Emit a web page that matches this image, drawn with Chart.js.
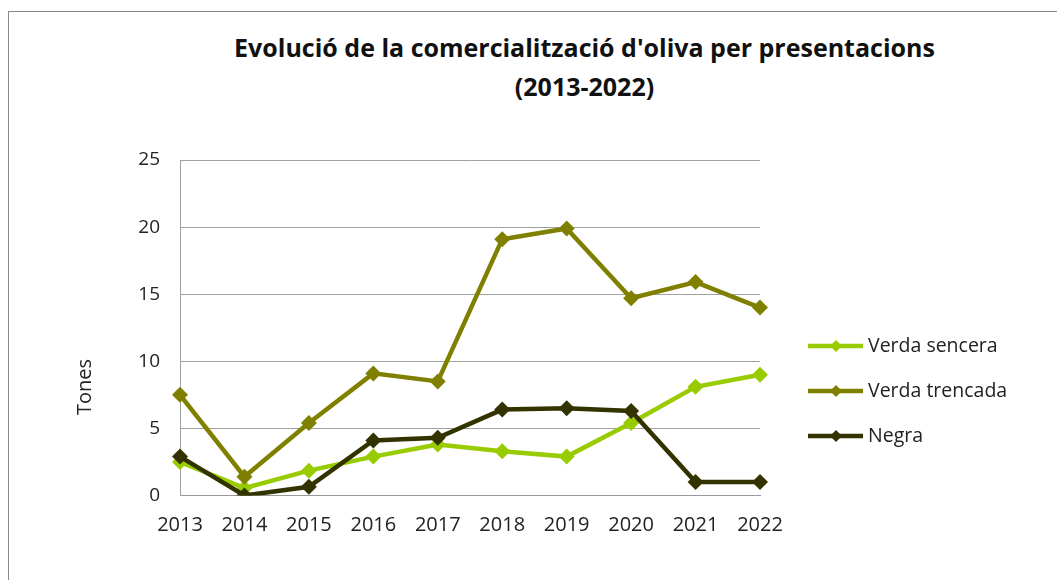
<!DOCTYPE html>
<html>
<head>
<meta charset="utf-8">
<script src="https://cdn.jsdelivr.net/npm/chart.js@4/dist/chart.umd.min.js"></script>
<style>
  html, body { margin: 0; padding: 0; background: #fff; }
  #wrap { position: relative; width: 1057px; height: 580px; overflow: hidden; }
  #frame { position: absolute; left: 8px; top: 11px; right: -2px; bottom: -2px; border-top: 1px solid #8a8a8a; border-left: 1px solid #8a8a8a; }
  #title { position: absolute; left: 0; width: 1169px; top: 28px; text-align: center; font-family: "Open Sans", sans-serif; font-weight: bold; font-size: 25px; line-height: 39px; color: #111; }
  canvas { position: absolute; left: 0; top: 0; }
</style>
</head>
<body>
<div id="wrap">
  <div id="frame"></div>
  <div id="title">Evolució de la comercialització d'oliva per presentacions<br>(2013-2022)</div>
  <canvas id="c" width="1057" height="580"></canvas>
</div>
<script>
const years = ['2013','2014','2015','2016','2017','2018','2019','2020','2021','2022'];
const verdaSencera = [2.5, 0.55, 1.85, 2.9, 3.8, 3.3, 2.9, 5.4, 8.1, 9.0];
const verdaTrencada = [7.5, 1.4, 5.4, 9.1, 8.5, 19.1, 19.9, 14.7, 15.9, 14.0];
const negra = [2.9, 0.0, 0.65, 4.1, 4.3, 6.4, 6.5, 6.3, 1.0, 1.0];
const seriesNames = ['Verda sencera', 'Verda trencada', 'Negra'];
const seriesColors = ['#99cc00', '#808000', '#333300'];
const yTicks = [0, 5, 10, 15, 20, 25];
const yTitle = 'Tones';

const FONT = '"Open Sans", sans-serif';

function ds(label, data, color, order) {
  return {
    label, data, order,
    borderColor: color, backgroundColor: color,
    borderWidth: 4.5,
    pointStyle: 'rectRot', pointRadius: 8, pointHoverRadius: 8,
    pointBorderWidth: 0,
    tension: 0
  };
}

const extras = {
  id: 'extras',
  afterDraw(chart) {
    const ctx = chart.ctx;
    ctx.save();
    ctx.fillStyle = '#222';
    ctx.font = '20px ' + FONT;
    ctx.textAlign = 'center';
    ctx.textBaseline = 'middle';
    ctx.translate(85, 387);
    ctx.rotate(-Math.PI / 2);
    ctx.fillText(yTitle, 0, 0);
    ctx.restore();

    ctx.save();
    const ys = [346, 391, 436];
    seriesNames.forEach((name, i) => {
      const y = ys[i];
      const col = seriesColors[i];
      ctx.strokeStyle = col;
      ctx.lineWidth = 4.5;
      ctx.beginPath();
      ctx.moveTo(808, y);
      ctx.lineTo(863, y);
      ctx.stroke();
      ctx.fillStyle = col;
      ctx.beginPath();
      const r = 6;
      ctx.moveTo(836, y - r);
      ctx.lineTo(836 + r, y);
      ctx.lineTo(836, y + r);
      ctx.lineTo(836 - r, y);
      ctx.closePath();
      ctx.fill();
      ctx.fillStyle = '#222';
      ctx.font = '19.5px ' + FONT;
      ctx.textAlign = 'left';
      ctx.textBaseline = 'middle';
      ctx.fillText(name, 868, y);
    });
    ctx.restore();
  }
};

new Chart(document.getElementById('c'), {
  type: 'line',
  data: {
    labels: years,
    datasets: [
      ds(seriesNames[0], verdaSencera, seriesColors[0], 3),
      ds(seriesNames[1], verdaTrencada, seriesColors[1], 2),
      ds(seriesNames[2], negra, seriesColors[2], 1)
    ]
  },
  options: {
    responsive: false,
    animation: false,
    devicePixelRatio: 1,
    layout: { padding: { left: 0, right: 297, top: 160, bottom: 0 } },
    plugins: { legend: { display: false }, title: { display: false }, tooltip: { enabled: false } },
    scales: {
      x: {
        type: 'category',
        offset: false,
        grid: { display: false, drawTicks: false },
        border: { display: true, color: '#999', width: 1 },
        ticks: { padding: 18, color: '#222', font: { family: FONT, size: 20 }, maxRotation: 0, autoSkip: false },
        afterFit(scale) { scale.height = 84.5; }
      },
      y: {
        min: 0, max: 25,
        afterBuildTicks(scale) { scale.ticks = yTicks.map(v => ({ value: v })); },
        grid: { color: '#a0a0a0', lineWidth: 1, drawTicks: false },
        border: { display: true, color: '#a0a0a0', width: 1 },
        ticks: { padding: 20, color: '#222', font: { family: FONT, size: 19 } },
        afterFit(scale) { scale.width = 180; }
      }
    }
  },
  plugins: [extras]
});
</script>
</body>
</html>
